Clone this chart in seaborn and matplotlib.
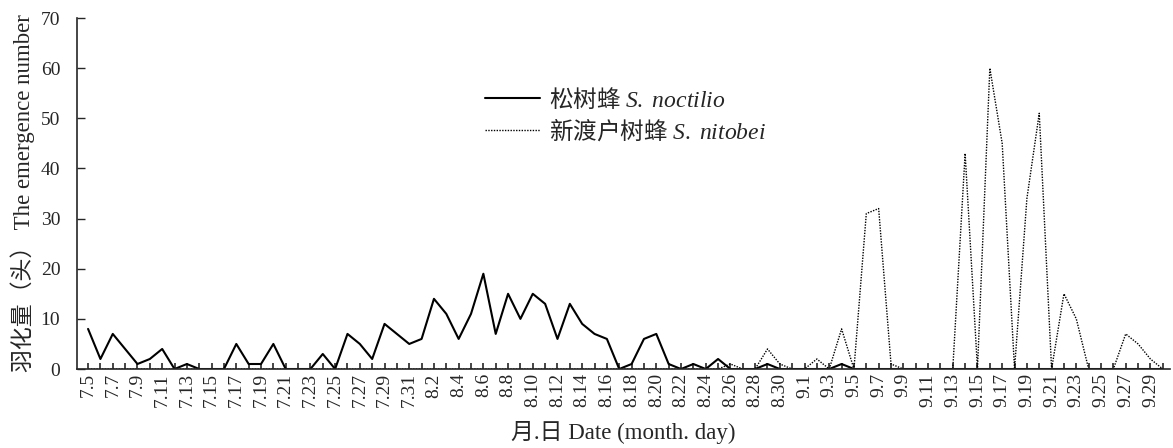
import matplotlib
matplotlib.use('Agg')
import matplotlib.pyplot as plt
import seaborn as sns
import pandas as pd
import numpy as np

sns.set_style('ticks')
plt.rcParams['font.family'] = ['Liberation Serif', 'Noto Sans CJK SC']
plt.rcParams['mathtext.fontset'] = 'custom'
plt.rcParams['mathtext.it'] = 'Liberation Serif:italic'
plt.rcParams['mathtext.rm'] = 'Liberation Serif'

# Dates 7.5 - 9.30
july_days = list(range(5, 32))
aug_days = list(range(1, 32))
sep_days = list(range(1, 31))
dates = ([f'7.{d}' for d in july_days] + [f'8.{d}' for d in aug_days]
         + [f'9.{d}' for d in sep_days])

# S. noctilio (solid)
noctilio_jul = [8, 2, 7, 4, 1, 2, 4, 0, 1, 0, 0, 0, 5, 1, 1, 5, 0, 0, 0, 3, 0, 7, 5, 2, 9, 7, 5]
noctilio_aug = [6, 14, 11, 6, 11, 19, 7, 15, 10, 15, 13, 6, 13, 9, 7, 6, 0, 1, 6, 7, 1, 0, 1, 0, 2,
                0, 0, 0, 1, 0, 0]
noctilio_sep = [0, 0, 0, 1, 0] + [0] * 25

# S. nitobei (dotted)
nitobei_jul = [0] * 27
nitobei_aug = [0] * 25 + [1, 0, 0, 4, 1, 0]
nitobei_sep = [0, 2, 0, 8, 0, 31, 32, 1, 0, 0, 0, 0, 0, 43, 0, 60, 45, 0, 34, 51, 0, 15, 10, 0, 0,
               0, 7, 5, 2, 0]

df = pd.DataFrame({
    'day': np.arange(len(dates)),
    'date': dates,
    'noctilio': noctilio_jul + noctilio_aug + noctilio_sep,
    'nitobei': nitobei_jul + nitobei_aug + nitobei_sep,
})

fig = plt.figure(figsize=(11.73, 4.48), dpi=100)
ax = fig.add_axes([0.0656, 0.1763, 0.932, 0.7835])

sns.lineplot(data=df, x='day', y='noctilio', ax=ax, color='black', linewidth=1.5,
             label='松树蜂 $\\mathit{S.\\ noctilio}$')
sns.lineplot(data=df, x='day', y='nitobei', ax=ax, color='black', linewidth=1.0,
             linestyle=(0, (1, 1)), label='新渡户树蜂 $\\mathit{S.\\ nitobei}$')

ax.set_xlim(-0.9, len(dates) - 0.4)
ax.set_ylim(0, 70)
ax.set_yticks(range(0, 71, 10))
ax.set_xticks(df['day'])
ax.set_xticklabels([d if i % 2 == 0 else '' for i, d in enumerate(dates)], rotation=90, fontsize=14)
ax.tick_params(axis='y', direction='in', length=6, width=1, labelsize=14, pad=12)
ax.tick_params(axis='x', direction='in', length=4, width=1.2, pad=3)
sns.despine(ax=ax)
for s in ['left', 'bottom']:
    ax.spines[s].set_linewidth(1.2)

ax.set_xlabel('月.日 Date (month. day)', fontsize=16.5, labelpad=10)
ax.set_ylabel('羽化量（头） The emergence number', fontsize=16.5, labelpad=4)

leg = ax.legend(loc='upper left', bbox_to_anchor=(0.354, 0.865), frameon=False,
                prop={'family': 'Noto Sans CJK SC', 'size': 17}, handlelength=2.3,
                labelspacing=0.22, handletextpad=0.4)

fig.savefig('out.png', dpi=100)
